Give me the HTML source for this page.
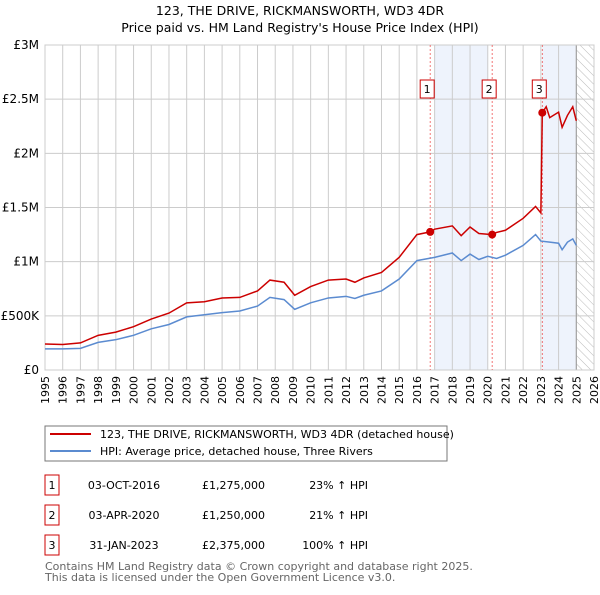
<!DOCTYPE html>
<html><head><meta charset="utf-8"><style>
body{margin:0;background:#fff;font-family:"Liberation Sans","DejaVu Sans",sans-serif}
svg text{font-family:"DejaVu Sans","Liberation Sans",sans-serif}
</style></head><body>
<svg id="c" width="600" height="590" xmlns="http://www.w3.org/2000/svg">
<defs><pattern id="hatch" width="6" height="6" patternUnits="userSpaceOnUse" patternTransform="rotate(-45)"><line x1="0" y1="0" x2="0" y2="6" stroke="#bbb" stroke-width="1"/></pattern></defs>
<text x="300" y="15" font-size="12.5" text-anchor="middle">123, THE DRIVE, RICKMANSWORTH, WD3 4DR</text>
<text x="300" y="32" font-size="12.5" text-anchor="middle">Price paid vs. HM Land Registry's House Price Index (HPI)</text>
<g id="plot"></g>
<rect x="45" y="426" width="402" height="35" fill="#fff" stroke="#777"/>
<line x1="50" y1="434" x2="91" y2="434" stroke="#cc0000" stroke-width="2"/>
<text x="100" y="438" font-size="11">123, THE DRIVE, RICKMANSWORTH, WD3 4DR (detached house)</text>
<line x1="50" y1="451" x2="91" y2="451" stroke="#5b8bd0" stroke-width="2"/>
<text x="100" y="455" font-size="11">HPI: Average price, detached house, Three Rivers</text>
<g id="tbl" font-size="11"></g>
<text x="45" y="570" font-size="11" fill="#666">Contains HM Land Registry data © Crown copyright and database right 2025.</text>
<text x="45" y="581" font-size="11" fill="#666">This data is licensed under the Open Government Licence v3.0.</text>
</svg>
<script>
const hpiYears=[1995,1996,1997,1998,1999,2000,2001,2002,2003,2004,2005,2006,2007,2007.7,2008.5,2009.1,2010,2011,2012,2012.5,2013,2014,2015,2016,2017,2018,2018.5,2019,2019.5,2020,2020.5,2021,2022,2022.7,2023,2023.5,2024,2024.2,2024.5,2024.8,2025];
const hpiValues=[195,195,200,255,280,320,380,420,490,510,530,545,590,670,650,560,620,665,680,660,690,730,840,1010,1040,1080,1010,1070,1020,1050,1030,1060,1150,1250,1190,1180,1170,1110,1180,1210,1150];
const propYears=[1995,1996,1997,1998,1999,2000,2001,2002,2003,2004,2005,2006,2007,2007.7,2008.5,2009.1,2010,2011,2012,2012.5,2013,2014,2015,2016,2016.75,2017,2018,2018.5,2019,2019.5,2020.25,2020.5,2021,2022,2022.7,2023.0,2023.08,2023.3,2023.5,2024,2024.2,2024.5,2024.8,2025];
const propValues=[240,235,250,320,350,400,470,525,620,630,665,670,730,830,810,690,770,830,840,810,850,900,1040,1250,1275,1300,1330,1240,1320,1260,1250,1270,1290,1400,1510,1450,2375,2430,2330,2380,2240,2350,2430,2300];
const saleYears=[2016.75,2020.25,2023.08];
const saleValues=[1275,1250,2375];
const saleLabels=["1","2","3"];
const saleDates=["03-OCT-2016","03-APR-2020","31-JAN-2023"];
const salePrices=["£1,275,000","£1,250,000","£2,375,000"];
const saleHpi=["23% ↑ HPI","21% ↑ HPI","100% ↑ HPI"];
const yTicks=[0,500,1000,1500,2000,2500,3000];
const yTickLabels=["£0","£500K","£1M","£1.5M","£2M","£2.5M","£3M"];
const NS="http://www.w3.org/2000/svg";
const L=45,R=594,T=45,B=370,X0=1995,X1=2026,YM=3000;
const sx=v=>L+(v-X0)/(X1-X0)*(R-L);
const sy=v=>B-v/YM*(B-T);
const g=document.getElementById('plot');
function mk(t,a,p){const e=document.createElementNS(NS,t);for(const k in a)e.setAttribute(k,a[k]);(p||g).appendChild(e);return e;}
// shading
let e=mk('rect',{x:sx(2017),y:T,width:sx(2020)-sx(2017),height:B-T,fill:'#eef3fc'});


e=mk('rect',{x:sx(saleYears[2]),y:T,width:sx(2025)-sx(saleYears[2]),height:B-T,fill:'#eef3fc'});


e=mk('rect',{x:sx(2025),y:T,width:sx(2026)-sx(2025),height:B-T,fill:'url(#hatch)'});


for(let y=1995;y<=2026;y++){e=mk('line',{x1:sx(y),x2:sx(y),y1:T,y2:B,stroke:'#ccc'});


e=mk('text',{x:0,y:0,'font-size':11,'text-anchor':'end',transform:`translate(${sx(y)+4},${B+6}) rotate(-90)`});e.textContent=y;

}
yTicks.forEach((v,i)=>{e=mk('line',{x1:L,x2:R,y1:sy(v),y2:sy(v),stroke:'#ccc'});


e=mk('text',{x:L-6,y:sy(v)+4,'font-size':12,'text-anchor':'end'});e.textContent=yTickLabels[i];

});
e=mk('line',{x1:sx(2025),x2:sx(2025),y1:T,y2:B,stroke:'#999'});


e=mk('rect',{x:L,y:T,width:R-L,height:B-T,fill:'none',stroke:'#ccc'});


saleYears.forEach((yr,i)=>{e=mk('line',{x1:sx(yr),x2:sx(yr),y1:T,y2:B,stroke:'#e55','stroke-dasharray':'2,2','stroke-width':0.8});


const x=sx(yr)-3;
e=mk('rect',{x:x-7,y:80,width:14,height:18,fill:'#fff',stroke:'#cc0000'});


e=mk('text',{x:x,y:93,'font-size':11,'text-anchor':'middle'});e.textContent=saleLabels[i];

});
e=mk('polyline',{points:hpiYears.map((y,i)=>sx(y)+','+sy(hpiValues[i])).join(' '),fill:'none',stroke:'#5b8bd0','stroke-width':1.5});


e=mk('polyline',{points:propYears.map((y,i)=>sx(y)+','+sy(propValues[i])).join(' '),fill:'none',stroke:'#cc0000','stroke-width':1.5});


saleYears.forEach((yr,i)=>{e=mk('circle',{cx:sx(yr),cy:sy(saleValues[i]),r:4,fill:'#cc0000'});

});
const tb=document.getElementById('tbl');
saleLabels.forEach((s,i)=>{const y=483+i*30;
e=mk('rect',{x:45,y:y-8,width:14,height:20,fill:'#fff',stroke:'#cc0000'},tb);


const cells=[[52,s,'middle'],[124,saleDates[i],'middle'],[265,salePrices[i],'end'],[368,saleHpi[i],'end']];
cells.forEach(c=>{e=mk('text',{x:c[0],y:y+6,'text-anchor':c[2]},tb);e.textContent=c[1];

});});
</script>
</body></html>
